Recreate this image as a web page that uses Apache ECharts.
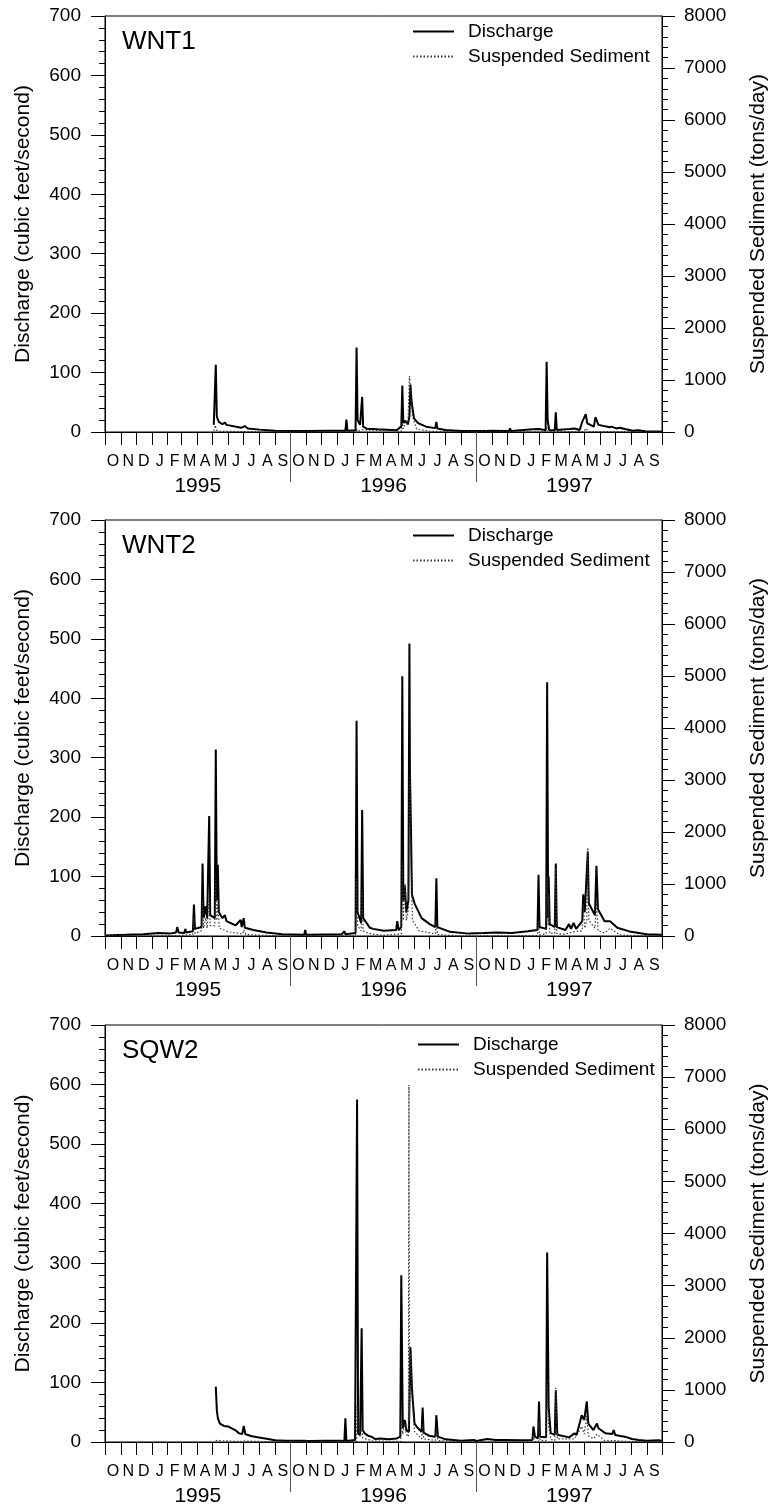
<!DOCTYPE html>
<html><head><meta charset="utf-8">
<script src="https://cdn.jsdelivr.net/npm/echarts@6/dist/echarts.min.js"></script>
<style>html,body{margin:0;padding:0;background:#fff}#c{width:771px;height:1507px}</style>
</head><body><div id="c"></div>
<script>
// ---- tick labels / names ----
const MONTH_LABELS = ['O','N','D','J','F','M','A','M','J','J','A','S'];
const YEAR_LABELS = ['1995','1996','1997'];
const SITE_NAMES = ['WNT1','WNT2','SQW2'];
const SERIES_NAMES = ['Discharge','Suspended Sediment'];
const LEFT_AXIS_NAME = 'Discharge (cubic feet/second)';
const RIGHT_AXIS_NAME = 'Suspended Sediment (tons/day)';

// ---- data: [date, discharge cfs] and [date, sediment tons/day] ----
const wnt1Discharge = [
['1995-05-03',12],['1995-05-07',113],['1995-05-09',26],['1995-05-13',17],['1995-05-20',13],['1995-05-25',16],['1995-05-28',12],
['1995-06-16',9],['1995-06-26',7],['1995-07-03',10],['1995-07-09',6],['1995-08-01',4],['1995-09-01',2],['1995-10-01',1.5],
['1995-10-30',1.5],['1995-11-01',3],['1995-11-03',1.5],['1995-12-10',2],['1996-01-17',2],['1996-01-19',21],['1996-01-21',2],
['1996-02-06',3],['1996-02-08',142],['1996-02-10',20],['1996-02-15',12],['1996-02-18',9],['1996-02-19',59],['1996-02-21',9],
['1996-02-28',5.5],['1996-03-20',4.5],['1996-04-27',3],['1996-05-01',6],['1996-05-06',9],['1996-05-08',78],['1996-05-10',15],
['1996-05-14',19],['1996-05-19',13],['1996-05-22',26],['1996-05-24',80],['1996-05-26',53],['1996-05-29',51],['1996-05-31',23],
['1996-06-08',15],['1996-06-24',9],['1996-07-12',6.5],['1996-07-14',17],['1996-07-16',6],['1996-08-01',3.4],['1996-09-01',1.7],
['1996-10-20',1.5],['1996-10-30',2],['1996-12-04',1.5],['1996-12-06',6],['1996-12-08',1.5],['1997-01-20',4.5],['1997-02-01',5],
['1997-02-14',3],['1997-02-16',118],['1997-02-18',20],['1997-02-21',3.4],['1997-03-04',3],['1997-03-06',33],['1997-03-08',3.4],
['1997-04-02',5],['1997-04-12',6],['1997-04-22',3.4],['1997-04-27',17],['1997-04-30',19],['1997-05-04',30],['1997-05-07',14.6],
['1997-05-20',9],['1997-05-23',25],['1997-05-29',12],['1997-06-20',8],['1997-06-24',9],['1997-07-03',6],['1997-07-10',7.3],
['1997-07-20',5],['1997-08-05',2.2],['1997-08-15',2.8],['1997-09-01',1],['1997-09-30',0.8]
];
const wnt1Sediment = [
['1995-05-03',20],['1995-05-06',130],['1995-05-08',40],['1995-05-15',15],['1995-07-01',8],['1995-09-01',2],['1996-02-07',5],
['1996-02-08',60],['1996-02-10',10],['1996-02-19',40],['1996-02-21',5],['1996-05-07',20],['1996-05-08',170],['1996-05-10',60],
['1996-05-15',200],['1996-05-19',120],['1996-05-22',1077],['1996-05-25',680],['1996-05-28',300],['1996-06-05',60],['1996-07-01',15],
['1996-09-01',2],['1997-02-15',3],['1997-02-16',100],['1997-02-18',10],['1997-05-01',10],['1997-05-04',70],['1997-05-10',10],['1997-09-30',1]
];
const wnt2Discharge = [
['1994-10-01',1],['1994-11-10',2],['1994-12-15',3],['1995-01-15',5],['1995-02-05',4],['1995-02-18',6],['1995-02-20',15],
['1995-02-23',6],['1995-03-06',5],['1995-03-08',12],['1995-03-10',6],['1995-03-23',8],['1995-03-25',53],['1995-03-27',12],
['1995-04-09',15],['1995-04-11',122],['1995-04-13',30],['1995-04-17',50],['1995-04-20',30],['1995-04-24',202],['1995-04-26',35],
['1995-05-05',30],['1995-05-07',314],['1995-05-09',60],['1995-05-11',120],['1995-05-13',40],['1995-05-20',30],['1995-05-25',35],
['1995-05-28',25],['1995-06-15',18],['1995-06-25',27],['1995-06-27',15],['1995-07-01',30],['1995-07-03',14],['1995-07-20',10],
['1995-08-15',6],['1995-09-15',3],['1995-10-28',2],['1995-10-30',10],['1995-11-01',2],['1996-01-10',3],['1996-01-15',8],
['1996-01-17',3],['1996-02-06',5],['1996-02-08',362],['1996-02-10',40],['1996-02-17',22],['1996-02-19',212],['1996-02-21',30],
['1996-03-05',14],['1996-03-12',12],['1996-04-01',9],['1996-04-26',10],['1996-04-28',25],['1996-05-01',10],['1996-05-06',15],
['1996-05-08',437],['1996-05-10',60],['1996-05-13',85],['1996-05-16',40],['1996-05-20',60],['1996-05-22',492],['1996-05-23',279],
['1996-05-25',184],['1996-05-27',70],['1996-06-01',55],['1996-06-15',30],['1996-07-01',20],['1996-07-12',15],['1996-07-14',97],
['1996-07-16',15],['1996-08-10',7],['1996-09-15',4],['1996-10-15',5],['1996-11-10',6],['1996-12-10',5],['1997-01-10',8],
['1997-01-29',10],['1997-01-31',103],['1997-02-02',15],['1997-02-15',12],['1997-02-17',427],['1997-02-19',30],['1997-02-20',100],
['1997-02-22',20],['1997-03-04',15],['1997-03-06',122],['1997-03-08',15],['1997-03-25',10],['1997-04-01',20],['1997-04-05',12],
['1997-04-10',22],['1997-04-15',12],['1997-04-27',25],['1997-04-29',70],['1997-05-02',40],['1997-05-08',142],['1997-05-10',55],
['1997-05-22',35],['1997-05-25',118],['1997-05-28',45],['1997-06-10',25],['1997-06-21',25],['1997-07-05',14],['1997-08-01',7],
['1997-09-01',3],['1997-09-30',2]
];
const wnt2Sediment = [
['1994-10-01',2],['1995-01-15',5],['1995-02-18',10],['1995-02-20',40],['1995-02-23',10],['1995-03-23',30],['1995-03-25',350],
['1995-03-27',50],['1995-04-09',100],['1995-04-11',700],['1995-04-13',150],['1995-04-17',350],['1995-04-20',150],['1995-04-24',800],
['1995-04-26',200],['1995-05-05',200],['1995-05-07',1200],['1995-05-09',300],['1995-05-11',600],['1995-05-14',150],['1995-06-01',80],
['1995-06-29',40],['1995-07-01',120],['1995-07-05',30],['1995-08-01',15],['1995-09-01',5],['1995-10-01',3],['1996-02-06',5],
['1996-02-08',1100],['1996-02-10',200],['1996-02-17',100],['1996-02-19',900],['1996-02-21',100],['1996-03-01',60],['1996-03-15',30],
['1996-04-01',15],['1996-05-06',40],['1996-05-08',1400],['1996-05-10',300],['1996-05-13',1000],['1996-05-16',300],['1996-05-20',500],
['1996-05-22',2500],['1996-05-23',3100],['1996-05-25',1500],['1996-05-28',300],['1996-06-10',100],['1996-07-12',40],['1996-07-14',300],
['1996-07-16',30],['1996-08-01',15],['1996-09-01',5],['1996-12-01',3],['1997-01-29',10],['1997-01-31',300],['1997-02-02',20],
['1997-02-15',40],['1997-02-17',1150],['1997-02-19',200],['1997-02-20',800],['1997-02-22',50],['1997-03-04',50],['1997-03-06',1300],
['1997-03-08',50],['1997-03-20',30],['1997-04-10',80],['1997-04-27',100],['1997-04-29',600],['1997-05-02',150],['1997-05-06',300],
['1997-05-08',1700],['1997-05-10',300],['1997-05-22',150],['1997-05-25',700],['1997-05-28',100],['1997-06-10',60],['1997-06-21',150],
['1997-07-10',20],['1997-08-01',10],['1997-09-30',2]
];
const sqw2Discharge = [
['1995-05-07',93],['1995-05-09',54],['1995-05-11',40],['1995-05-15',31],['1995-05-23',27],['1995-06-01',26],['1995-06-14',20],
['1995-06-22',14.5],['1995-06-25',17],['1995-06-28',13.4],['1995-07-01',27],['1995-07-04',13.4],['1995-07-15',10],['1995-07-28',7.8],
['1995-08-15',5.6],['1995-09-01',2.8],['1995-09-21',2.2],['1995-10-29',2],['1995-11-01',4.5],['1995-11-04',1.7],['1995-12-10',2],
['1995-12-12',5],['1995-12-14',2],['1996-01-07',2.2],['1996-01-15',1.7],['1996-01-17',40],['1996-01-19',1.7],['1996-02-05',3.4],
['1996-02-09',575],['1996-02-11',14.5],['1996-02-15',11.7],['1996-02-18',191],['1996-02-20',20],['1996-02-24',14.5],['1996-03-03',10],
['1996-03-08',9],['1996-03-16',5],['1996-03-26',6],['1996-04-11',4.5],['1996-04-27',6],['1996-05-04',9],['1996-05-06',280],
['1996-05-09',23],['1996-05-13',37],['1996-05-16',20],['1996-05-21',17],['1996-05-24',159],['1996-05-27',90],['1996-06-01',31],
['1996-06-08',23],['1996-06-15',17],['1996-06-17',58],['1996-06-19',15.7],['1996-07-01',10],['1996-07-12',9],['1996-07-14',45],
['1996-07-17',9],['1996-08-01',4.5],['1996-09-01',2.2],['1996-09-26',3.4],['1996-10-01',1.7],['1996-10-22',5],['1996-11-08',3.4],
['1996-11-25',3.4],['1996-12-30',2.8],['1997-01-19',3.4],['1997-01-21',26],['1997-01-24',9],['1997-01-30',6],['1997-02-01',68],
['1997-02-03',9],['1997-02-15',8],['1997-02-17',318],['1997-02-20',59],['1997-02-24',15],['1997-03-04',12],['1997-03-06',87],
['1997-03-09',12],['1997-03-26',9],['1997-04-01',7.8],['1997-04-12',14.5],['1997-04-16',11.7],['1997-04-26',45],['1997-05-01',37],
['1997-05-06',68],['1997-05-09',31],['1997-05-19',20],['1997-05-26',31],['1997-05-29',23],['1997-06-12',14.5],['1997-06-25',13.4],
['1997-06-28',20],['1997-07-01',11.7],['1997-07-11',10],['1997-07-20',9],['1997-08-03',5],['1997-08-16',3.4],['1997-09-01',2.2],
['1997-09-24',2.8],['1997-09-30',2]
];
const sqw2Sediment = [
['1995-05-07',30],['1995-05-10',15],['1995-06-25',10],['1995-07-01',20],['1995-07-04',5],['1995-09-01',2],['1996-01-16',2],
['1996-01-17',30],['1996-01-19',2],['1996-02-08',10],['1996-02-09',700],['1996-02-11',400],['1996-02-15',100],['1996-02-18',350],
['1996-02-20',80],['1996-03-10',20],['1996-05-05',10],['1996-05-06',400],['1996-05-09',150],['1996-05-13',350],['1996-05-16',150],
['1996-05-20',100],['1996-05-21',6850],['1996-05-22',400],['1996-05-24',1700],['1996-05-27',900],['1996-06-01',200],['1996-06-15',60],
['1996-06-17',350],['1996-06-19',60],['1996-07-12',30],['1996-07-14',250],['1996-07-17',30],['1996-09-01',5],['1997-01-19',5],
['1997-01-21',150],['1997-01-23',10],['1997-01-31',10],['1997-02-01',400],['1997-02-03',30],['1997-02-15',30],['1997-02-17',1200],
['1997-02-20',300],['1997-02-24',50],['1997-03-04',30],['1997-03-06',1040],['1997-03-09',60],['1997-04-12',60],['1997-04-26',300],
['1997-05-01',150],['1997-05-06',500],['1997-05-09',120],['1997-05-19',60],['1997-05-26',150],['1997-06-10',30],['1997-07-01',25],
['1997-08-01',8],['1997-09-30',2]
];

const DISCHARGE = [wnt1Discharge, wnt2Discharge, sqw2Discharge];
const SEDIMENT = [wnt1Sediment, wnt2Sediment, sqw2Sediment];

// ---- layout ----
const FONT = '"Liberation Sans", Arial, Helvetica, sans-serif';
const LAYOUT = [
  {top: 16, height: 416, legendLeft: 412, legendTop: 22},
  {top: 520, height: 416, legendLeft: 412, legendTop: 526},
  {top: 1025, height: 417, legendLeft: 417, legendTop: 1035}
];

const toTs = s => { const p = s.split('-').map(Number); return new Date(p[0], p[1] - 1, p[2]).getTime(); };
const toSeries = arr => arr.map(d => [toTs(d[0]), d[1]]);

const START = new Date(1994, 9, 1).getTime();
const END = new Date(1997, 9, 1).getTime();
const monthStarts = [];
for (let i = 0; i <= 36; i++) monthStarts.push(new Date(1994, 9 + i, 1).getTime());
const monthMids = [];
for (let i = 0; i < 36; i++) monthMids.push((monthStarts[i] + monthStarts[i + 1]) / 2);
const yearBounds = [monthStarts[12], monthStarts[24]];
const yearMids = [0, 1, 2].map(k => (monthStarts[12 * k] + monthStarts[12 * k + 12]) / 2);

const monthFmt = v => MONTH_LABELS[(new Date(v).getMonth() + 3) % 12];
const yearFmt = v => YEAR_LABELS[Math.max(0, Math.min(2, Math.floor((v - START) / (END - START) * 3)))];
const plainFmt = v => String(v);

const grid = [], xAxis = [], yAxis = [], series = [], legend = [], title = [];
LAYOUT.forEach((L, i) => {
  grid.push({left: 105, width: 557, top: L.top, height: L.height, show: true, borderColor: '#000', borderWidth: 1,
    backgroundColor: 'transparent', containLabel: false, outerBoundsMode: 'none'});
  xAxis.push({
    gridIndex: i, type: 'value', min: START, max: END, position: 'bottom',
    axisLine: {show: true, onZero: false, lineStyle: {color: '#000', width: 1}},
    axisTick: {show: true, customValues: monthStarts, length: 13, lineStyle: {color: '#000', width: 1}},
    axisLabel: {show: true, customValues: monthMids, formatter: monthFmt, fontSize: 16, margin: 22, color: '#000', fontFamily: FONT, hideOverlap: false},
    splitLine: {show: false}
  });
  xAxis.push({
    gridIndex: i, type: 'value', min: START, max: END, position: 'bottom',
    axisLine: {show: false, onZero: false},
    axisTick: {show: true, customValues: yearBounds, length: 50, lineStyle: {color: '#555', width: 1}},
    axisLabel: {show: true, customValues: yearMids, formatter: yearFmt, fontSize: 21, margin: 44, color: '#000', fontFamily: FONT, hideOverlap: false},
    splitLine: {show: false}
  });
  yAxis.push({
    gridIndex: i, type: 'value', position: 'left', min: 0, max: 700, interval: 100,
    axisLine: {show: true, lineStyle: {color: '#000', width: 1}},
    axisTick: {show: true, length: 14, lineStyle: {color: '#000'}},
    minorTick: {show: true, splitNumber: 5, length: 6, lineStyle: {color: '#000'}},
    splitLine: {show: false}, minorSplitLine: {show: false},
    axisLabel: {fontSize: 19, color: '#000', margin: 24, fontFamily: FONT, formatter: plainFmt},
    name: LEFT_AXIS_NAME, nameLocation: 'middle', nameRotate: 90, nameGap: 71,
    nameTextStyle: {fontSize: 21, color: '#000', fontFamily: FONT}
  });
  yAxis.push({
    gridIndex: i, type: 'value', position: 'right', min: 0, max: 8000, interval: 1000,
    axisLine: {show: true, lineStyle: {color: '#000', width: 1}},
    axisTick: {show: true, length: 13, lineStyle: {color: '#000'}},
    minorTick: {show: true, splitNumber: 5, length: 6, lineStyle: {color: '#000'}},
    splitLine: {show: false}, minorSplitLine: {show: false},
    axisLabel: {fontSize: 19, color: '#000', margin: 22, fontFamily: FONT, formatter: plainFmt},
    name: RIGHT_AXIS_NAME, nameLocation: 'middle', nameRotate: 90, nameGap: 86,
    nameTextStyle: {fontSize: 21, color: '#000', fontFamily: FONT}
  });
  series.push({
    type: 'line', name: SERIES_NAMES[0], xAxisIndex: 2 * i, yAxisIndex: 2 * i,
    data: toSeries(DISCHARGE[i]), symbol: 'none', showSymbol: false, z: 3,
    lineStyle: {color: '#000', width: 2}, itemStyle: {color: '#000'}
  });
  series.push({
    type: 'line', name: SERIES_NAMES[1], xAxisIndex: 2 * i, yAxisIndex: 2 * i + 1,
    data: toSeries(SEDIMENT[i]), symbol: 'none', showSymbol: false, z: 4,
    lineStyle: {color: '#333', width: 1.2, type: [1.5, 2]}, itemStyle: {color: '#333'}
  });
  legend.push({
    data: SERIES_NAMES, orient: 'vertical', left: L.legendLeft, top: L.legendTop,
    itemWidth: 41, itemHeight: 14, itemGap: 6, padding: 0, selectedMode: false,
    itemStyle: {opacity: 0},
    textStyle: {fontSize: 19, color: '#000', fontFamily: FONT, padding: [0, 0, 0, 9]}
  });
  title.push({
    text: SITE_NAMES[i], left: 122, top: L.top + 13, padding: 0,
    textStyle: {fontSize: 26, fontWeight: 'normal', color: '#000', fontFamily: FONT}
  });
});

const chart = echarts.init(document.getElementById('c'), null, {renderer: 'canvas'});
chart.setOption({animation: false, backgroundColor: '#fff', grid, xAxis, yAxis, series, legend, title});
</script>
</body></html>
